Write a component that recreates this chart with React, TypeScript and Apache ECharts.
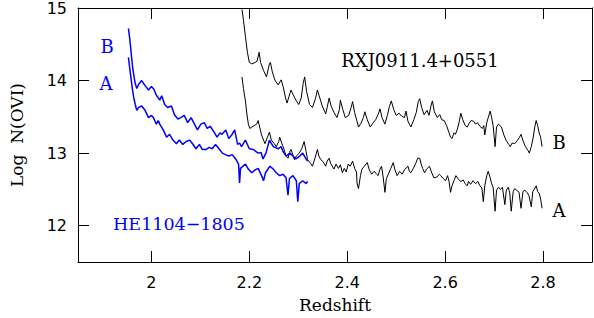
import React, { useEffect, useRef } from "react";
import * as echarts from "echarts";

const xTicks = [2, 2.2, 2.4, 2.6, 2.8];
const yTicks = [12, 13, 14, 15];

// HE1104-1805 (blue)
const heB: [number, number][] = [
  [1.953,14.72],[1.956,14.56],[1.959,14.35],[1.962,14.16],[1.965,14.03],[1.967,13.96],[1.970,13.89],[1.974,13.95],
  [1.980,14.00],[1.984,13.96],[1.987,13.93],[1.994,13.87],[2.000,13.92],[2.005,13.88],[2.010,13.80],[2.017,13.73],
  [2.021,13.79],[2.027,13.67],[2.033,13.63],[2.041,13.65],[2.047,13.53],[2.054,13.47],[2.060,13.49],[2.067,13.52],
  [2.074,13.42],[2.081,13.49],[2.088,13.40],[2.094,13.32],[2.101,13.40],[2.108,13.42],[2.114,13.34],[2.120,13.37],
  [2.128,13.29],[2.134,13.22],[2.140,13.28],[2.144,13.26],[2.152,13.32],[2.158,13.20],[2.164,13.25],[2.170,13.32],
  [2.176,13.12],[2.180,13.14],[2.184,13.09],[2.192,13.18],[2.200,13.06],[2.208,13.05],[2.218,13.00],[2.224,13.01],
  [2.228,12.92],[2.234,13.00],[2.241,13.18],[2.249,13.09],[2.259,13.06],[2.265,13.09],[2.269,13.02],[2.275,12.96],
  [2.283,13.00],[2.289,12.96],[2.295,12.92],[2.303,12.96],[2.309,13.00],[2.315,12.93],[2.319,12.89]
];
const heA: [number, number][] = [
  [1.953,14.32],[1.957,14.10],[1.961,13.89],[1.964,13.76],[1.967,13.67],[1.970,13.59],[1.974,13.63],[1.980,13.65],
  [1.987,13.59],[1.994,13.49],[2.000,13.52],[2.004,13.49],[2.010,13.40],[2.014,13.45],[2.017,13.40],[2.024,13.32],
  [2.031,13.22],[2.037,13.26],[2.044,13.18],[2.051,13.13],[2.057,13.18],[2.064,13.12],[2.071,13.16],[2.078,13.18],
  [2.084,13.13],[2.091,13.06],[2.098,13.12],[2.104,13.05],[2.111,13.05],[2.118,13.08],[2.124,13.06],[2.131,13.12],
  [2.138,13.06],[2.145,13.00],[2.151,12.98],[2.158,12.96],[2.165,12.98],[2.172,12.92],[2.178,12.85],[2.180,12.59],
  [2.182,12.79],[2.192,12.85],[2.198,12.78],[2.205,12.73],[2.212,12.77],[2.218,12.79],[2.225,12.69],[2.229,12.62],
  [2.233,12.73],[2.242,12.82],[2.249,12.78],[2.255,12.73],[2.262,12.69],[2.269,12.71],[2.275,12.66],[2.279,12.42],
  [2.282,12.65],[2.289,12.69],[2.296,12.62],[2.299,12.33],[2.302,12.58],[2.309,12.62],[2.316,12.58],[2.319,12.61]
];

// RXJ0911.4+0551 (black)
const rxB: [number, number][] = [
  [2.185,14.98],[2.188,14.83],[2.192,14.61],[2.196,14.39],[2.200,14.25],[2.205,14.23],[2.212,14.25],[2.216,14.27],
  [2.220,14.39],[2.223,14.25],[2.229,14.14],[2.235,14.05],[2.241,14.23],[2.243,14.25],[2.247,14.12],[2.252,14.01],
  [2.259,13.94],[2.265,14.01],[2.269,13.92],[2.274,13.76],[2.277,13.69],[2.281,13.78],[2.285,13.87],[2.290,13.80],
  [2.296,13.72],[2.301,13.67],[2.306,13.76],[2.310,13.96],[2.313,14.05],[2.317,13.85],[2.323,13.67],[2.329,13.63],
  [2.335,13.75],[2.339,13.87],[2.344,13.76],[2.349,13.65],[2.356,13.54],[2.359,13.63],[2.363,13.76],[2.367,13.65],
  [2.373,13.56],[2.379,13.49],[2.384,13.60],[2.386,13.73],[2.391,13.60],[2.396,13.49],[2.403,13.52],[2.408,13.63],
  [2.411,13.71],[2.415,13.56],[2.420,13.44],[2.423,13.36],[2.428,13.41],[2.433,13.49],[2.436,13.57],[2.441,13.46],
  [2.447,13.36],[2.452,13.41],[2.458,13.46],[2.463,13.53],[2.467,13.61],[2.471,13.49],[2.477,13.40],[2.482,13.52],
  [2.486,13.64],[2.490,13.72],[2.495,13.60],[2.500,13.52],[2.506,13.55],[2.511,13.51],[2.517,13.49],[2.520,13.58],
  [2.524,13.44],[2.530,13.36],[2.536,13.46],[2.541,13.56],[2.545,13.71],[2.548,13.75],[2.552,13.63],[2.557,13.53],
  [2.563,13.59],[2.567,13.52],[2.571,13.65],[2.574,13.72],[2.578,13.57],[2.584,13.49],[2.589,13.53],[2.593,13.46],
  [2.598,13.45],[2.603,13.38],[2.608,13.28],[2.611,13.22],[2.614,13.20],[2.618,13.28],[2.621,13.26],[2.625,13.33],
  [2.629,13.44],[2.632,13.55],[2.636,13.46],[2.641,13.38],[2.645,13.36],[2.649,13.41],[2.653,13.45],[2.658,13.44],
  [2.662,13.40],[2.666,13.42],[2.671,13.37],[2.676,13.34],[2.679,13.38],[2.681,13.25],[2.685,13.42],[2.688,13.49],
  [2.692,13.58],[2.695,13.49],[2.698,13.38],[2.702,13.09],[2.705,13.36],[2.709,13.40],[2.715,13.36],[2.720,13.25],
  [2.725,13.17],[2.730,13.12],[2.733,13.09],[2.737,13.14],[2.742,13.13],[2.747,13.17],[2.752,13.22],[2.755,13.26],
  [2.759,13.17],[2.764,13.09],[2.769,13.04],[2.772,13.00],[2.776,13.09],[2.780,13.22],[2.783,13.36],[2.786,13.45],
  [2.789,13.38],[2.792,13.28],[2.795,13.22],[2.798,13.09]
];
const rxA: [number, number][] = [
  [2.185,14.05],[2.188,13.89],[2.192,13.72],[2.195,13.54],[2.198,13.40],[2.201,13.34],[2.205,13.36],[2.210,13.38],
  [2.215,13.40],[2.218,13.45],[2.221,13.36],[2.225,13.25],[2.232,13.13],[2.237,13.22],[2.241,13.29],[2.245,13.18],
  [2.251,13.13],[2.255,13.09],[2.260,13.16],[2.262,13.22],[2.266,13.14],[2.269,13.09],[2.275,12.96],[2.279,12.93],
  [2.282,13.01],[2.285,13.05],[2.289,12.98],[2.292,12.91],[2.296,12.96],[2.302,13.00],[2.307,13.06],[2.312,13.16],
  [2.316,13.02],[2.319,12.91],[2.325,12.86],[2.329,12.82],[2.334,12.93],[2.339,13.05],[2.342,12.96],[2.346,12.91],
  [2.351,12.88],[2.356,12.82],[2.359,12.89],[2.363,12.93],[2.366,12.86],[2.373,12.78],[2.377,12.85],[2.382,12.79],
  [2.386,12.84],[2.390,12.73],[2.394,12.79],[2.398,12.74],[2.402,12.85],[2.406,12.82],[2.411,12.89],[2.415,12.79],
  [2.419,12.74],[2.420,12.59],[2.423,12.51],[2.427,12.69],[2.430,12.78],[2.435,12.82],[2.441,12.87],[2.445,12.77],
  [2.450,12.71],[2.455,12.75],[2.460,12.71],[2.463,12.69],[2.467,12.78],[2.470,12.82],[2.473,12.69],[2.477,12.46],
  [2.480,12.65],[2.484,12.71],[2.489,12.79],[2.494,12.87],[2.497,12.78],[2.502,12.69],[2.507,12.75],[2.512,12.71],
  [2.517,12.77],[2.524,12.82],[2.527,12.75],[2.530,12.73],[2.535,12.79],[2.540,12.86],[2.544,12.93],[2.548,12.93],
  [2.551,12.85],[2.554,12.79],[2.558,12.73],[2.562,12.78],[2.568,12.82],[2.572,12.74],[2.577,12.66],[2.583,12.67],
  [2.588,12.71],[2.591,12.69],[2.596,12.65],[2.601,12.62],[2.605,12.69],[2.608,12.61],[2.611,12.46],[2.614,12.55],
  [2.618,12.62],[2.622,12.69],[2.627,12.64],[2.632,12.61],[2.637,12.63],[2.641,12.58],[2.645,12.55],[2.648,12.61],
  [2.652,12.57],[2.657,12.62],[2.662,12.58],[2.667,12.61],[2.671,12.55],[2.675,12.52],[2.678,12.33],[2.681,12.55],
  [2.685,12.69],[2.688,12.75],[2.692,12.66],[2.695,12.58],[2.698,12.53],[2.702,12.20],[2.705,12.49],[2.709,12.53],
  [2.713,12.50],[2.717,12.53],[2.722,12.29],[2.725,12.49],[2.729,12.53],[2.732,12.45],[2.735,12.20],[2.739,12.47],
  [2.742,12.51],[2.746,12.49],[2.751,12.46],[2.755,12.24],[2.759,12.47],[2.763,12.49],[2.767,12.46],[2.771,12.42],
  [2.776,12.26],[2.779,12.47],[2.782,12.50],[2.786,12.55],[2.789,12.47],[2.792,12.45],[2.795,12.37],[2.798,12.24]
];

const SERIF = '"DejaVu Serif", serif';
const SANS = '"DejaVu Sans", sans-serif';
const BLUE = "#0000ff";
const BLACK = "#000000";

export default function App() {
  const ref = useRef<HTMLDivElement>(null);
  useEffect(() => {
    if (!ref.current) return;
    const chart = echarts.init(ref.current, null, { renderer: "svg" });
    const axisLine = { show: true, lineStyle: { color: BLACK, width: 1 } };
    const tickStyle = { color: BLACK, width: 1 };
    const labelStyle = { color: BLACK, fontFamily: SANS, fontSize: 16 };
    const line = (name: string, data: [number, number][], color: string, width: number) => ({
      type: "line",
      name,
      data,
      showSymbol: false,
      symbol: "none",
      lineStyle: { color, width },
      itemStyle: { color },
      z: color === BLUE ? 3 : 2,
    });
    chart.setOption({
      animation: false,
      grid: { left: 71, right: 2, top: 7, bottom: 50, show: false },
      xAxis: [
        {
          type: "value", min: 1.85, max: 2.9, position: "bottom",
          axisLine,
          axisTick: { show: true, inside: true, length: 11, customValues: xTicks, lineStyle: tickStyle },
          axisLabel: { show: true, customValues: xTicks, margin: 12, ...labelStyle },
          splitLine: { show: false },
          name: "Redshift", nameLocation: "middle", nameGap: 34,
          nameTextStyle: { color: BLACK, fontFamily: SERIF, fontSize: 17 },
        },
        {
          type: "value", min: 1.85, max: 2.9, position: "top",
          axisLine,
          axisTick: { show: true, inside: true, length: 11, customValues: xTicks, lineStyle: tickStyle },
          axisLabel: { show: false },
          splitLine: { show: false },
        },
      ],
      yAxis: [
        {
          type: "value", min: 11.5, max: 15, position: "left",
          axisLine,
          axisTick: { show: true, inside: true, length: 11, customValues: yTicks, lineStyle: tickStyle },
          axisLabel: { show: true, customValues: yTicks, margin: 11, showMaxLabel: true, ...labelStyle },
          splitLine: { show: false },
          name: "Log  N(OVI)", nameLocation: "middle", nameGap: 53, nameRotate: 90,
          nameTextStyle: { color: BLACK, fontFamily: SERIF, fontSize: 17 },
        },
        {
          type: "value", min: 11.5, max: 15, position: "right",
          axisLine,
          axisTick: { show: true, inside: true, length: 11, customValues: yTicks, lineStyle: tickStyle },
          axisLabel: { show: false },
          splitLine: { show: false },
        },
      ],
      series: [
        line("RXJ B", rxB, BLACK, 1),
        line("RXJ A", rxA, BLACK, 1),
        line("HE B", heB, BLUE, 1.5),
        line("HE A", heA, BLUE, 1.5),
      ],
      graphic: [
        { type: "text", x: 107, y: 46, style: { text: "B", fill: BLUE, font: `18px ${SERIF}`, align: "center", verticalAlign: "middle" } },
        { type: "text", x: 106, y: 83, style: { text: "A", fill: BLUE, font: `18px ${SERIF}`, align: "center", verticalAlign: "middle" } },
        { type: "text", x: 559, y: 142, style: { text: "B", fill: BLACK, font: `18px ${SERIF}`, align: "center", verticalAlign: "middle" } },
        { type: "text", x: 559, y: 210, style: { text: "A", fill: BLACK, font: `18px ${SERIF}`, align: "center", verticalAlign: "middle" } },
        { type: "text", x: 420, y: 60, style: { text: "RXJ0911.4+0551", fill: BLACK, font: `18px ${SERIF}`, align: "center", verticalAlign: "middle" } },
        { type: "text", x: 179, y: 224, style: { text: "HE1104\u22121805", fill: BLUE, font: `17.5px ${SERIF}`, align: "center", verticalAlign: "middle" } },
      ],
    });
    return () => chart.dispose();
  }, []);
  return <div ref={ref} style={{ width: 594, height: 318, position: "absolute", left: 0, top: 0 }} />;
}
